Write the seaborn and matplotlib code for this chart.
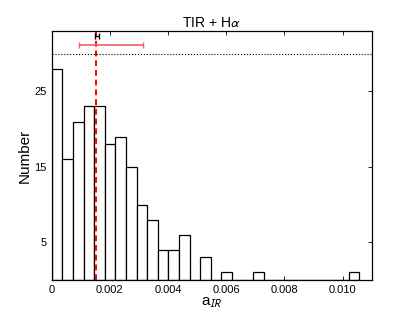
import numpy as np
import pandas as pd
import matplotlib
matplotlib.use("Agg")
import matplotlib.pyplot as plt
import seaborn as sns

# histogram of a_IR: 29 equal bins starting at 0
bin_width = 0.0003646
counts = [28, 16, 21, 23, 23, 18, 19, 15, 10, 8, 4, 4, 6, 0, 3, 0, 1, 0, 0, 1,
          0, 0, 0, 0, 0, 0, 0, 0, 1]

# summary markers
median_val = 0.00152
red_lo, red_hi, red_y = 0.00093, 0.00314, 31.1
blk_lo, blk_hi, blk_y = 0.00148, 0.00162, 32.3
ref_level = 30

xticks = [0, 0.002, 0.004, 0.006, 0.008, 0.010]
xticklabels = ['0', '0.002', '0.004', '0.006', '0.008', '0.010']
yticks = [5, 15, 25]

sns.set_style("ticks")
plt.rcParams['font.family'] = ['Liberation Sans', 'DejaVu Sans']
plt.rcParams['mathtext.fontset'] = 'stixsans'
plt.rcParams['xtick.direction'] = 'in'
plt.rcParams['ytick.direction'] = 'in'
plt.rcParams['text.color'] = 'black'
plt.rcParams['axes.labelcolor'] = 'black'
plt.rcParams['xtick.color'] = 'black'
plt.rcParams['ytick.color'] = 'black'
plt.rcParams['axes.edgecolor'] = 'black'

edges = [i * bin_width for i in range(len(counts) + 1)]
df = pd.DataFrame({'x': [(edges[i] + edges[i + 1]) / 2 for i in range(len(counts))],
                   'n': counts})

fig, ax = plt.subplots(figsize=(4.14, 3.11), dpi=100)
fig.subplots_adjust(left=0.125, right=0.898, bottom=0.1, top=0.9)

sns.histplot(data=df, x='x', weights='n', bins=edges, color='white',
             edgecolor='black', linewidth=0.9, alpha=1, ax=ax)

ax.axvline(median_val, color='red', ls=(0, (3, 2)), lw=1.4)
ax.axhline(ref_level, color='black', ls=':', lw=0.8)
ax.errorbar([median_val], [red_y], xerr=[[median_val - red_lo], [red_hi - median_val]],
            color='#f06060', capsize=2, lw=1.2)
ax.errorbar([(blk_lo + blk_hi) / 2], [blk_y], xerr=[[(blk_hi - blk_lo) / 2], [(blk_hi - blk_lo) / 2]],
            color='black', capsize=2, lw=1.0)

ax.set_xlim(0, 0.011)
ax.set_ylim(0, 33)
ax.set_xticks(xticks)
ax.set_xticklabels(xticklabels, fontsize=8)
ax.set_yticks(yticks)
ax.set_yticklabels([str(t) for t in yticks], fontsize=8)
ax.tick_params(top=True, right=True, length=3, width=0.6)
for s in ax.spines.values():
    s.set_visible(True)
    s.set_linewidth(0.9)

ax.set_title(r'TIR + H$\alpha$', fontsize=10, pad=3)
ax.set_xlabel(r'a$_{IR}$', fontsize=11, labelpad=1)
ax.set_ylabel('Number', fontsize=11, labelpad=2)

fig.savefig('out.png', dpi=100)
